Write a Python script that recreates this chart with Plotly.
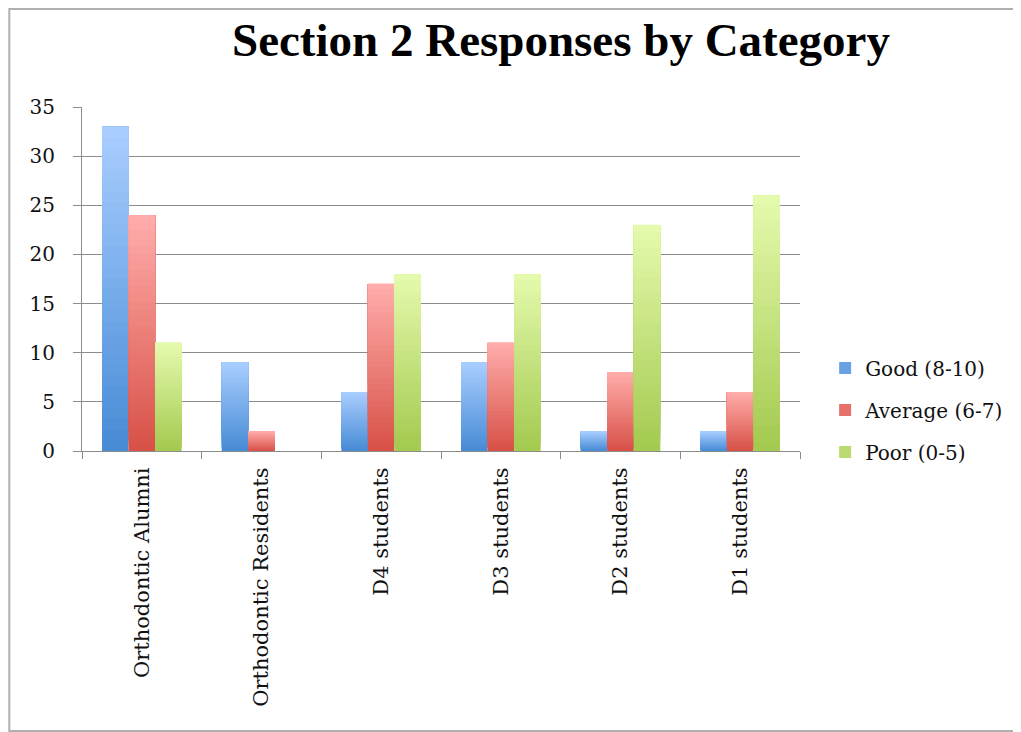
import plotly.graph_objects as go

categories = ["Orthodontic Alumni", "Orthodontic Residents", "D4 students",
              "D3 students", "D2 students", "D1 students"]
good = [33, 9, 6, 9, 2, 2]
average = [24, 2, 17, 11, 8, 6]
poor = [11, 0, 18, 18, 23, 26]

series = [
    ("Good (8-10)", good, (168, 205, 255), (72, 140, 214)),
    ("Average (6-7)", average, (255, 172, 170), (216, 82, 72)),
    ("Poor (0-5)", poor, (228, 250, 172), (164, 202, 80)),
]

N = 30
fig = go.Figure()
for name, vals, top, bot in series:
    for k in range(N):
        t = k / (N - 1)  # 0 bottom -> 1 top
        c = tuple(int(round(bot[i] + (top[i] - bot[i]) * t)) for i in range(3))
        fig.add_trace(go.Bar(
            x=categories,
            y=[v * (N - k) / N for v in vals],
            base=[v * k / N for v in vals],
            offsetgroup=name,
            legendgroup=name,
            name=name,
            showlegend=(k == N // 3),
            marker=dict(color="rgb(%d,%d,%d)" % c, line=dict(width=0)),
            hoverinfo="skip" if k else "y",
        ))

tick_font = "DejaVu Serif"
W, H = 1013, 724
L, T, PW, PH = 74, 99, 721, 344
fig.update_layout(
    width=W, height=H,
    barmode="group", bargap=0.335, bargroupgap=0,
    paper_bgcolor="white", plot_bgcolor="white",
    margin=dict(l=L, r=W - L - PW, t=T, b=H - T - PH),
    title=dict(text="<b>Section 2 Responses by Category</b>", x=553 / W, xanchor="center",
               y=1 - 32 / H, yanchor="middle",
               font=dict(family="Liberation Serif", size=47, color="black")),
    font=dict(family=tick_font, size=20, color="#111"),
    legend=dict(x=1.035, xanchor="left", y=0.119, yanchor="middle",
                traceorder="grouped", tracegroupgap=13,
                font=dict(family=tick_font, size=20, color="#111")),
    xaxis=dict(showline=True, linecolor="#8c8c8c", linewidth=1, ticks="outside",
               tickson="boundaries", ticklen=7, tickcolor="#8c8c8c",
               tickangle=-90, showgrid=False, ticklabelstandoff=7,
               tickfont=dict(family=tick_font, size=21, color="#111")),
    yaxis=dict(range=[0, 35], dtick=5, showline=True, linecolor="#8c8c8c",
               ticks="outside", ticklen=8, tickcolor="#8c8c8c",
               gridcolor="#8c8c8c", gridwidth=1, zeroline=False,
               ticklabelstandoff=14,
               tickfont=dict(family=tick_font, size=20, color="#111")),
    shapes=[dict(type="rect", xref="paper", yref="paper",
                 x0=(1 - L) / PW, x1=(W + 20 - L) / PW,
                 y0=(T + PH - (H - 1)) / PH, y1=(T + PH - 1) / PH,
                 line=dict(color="#b0b0b0", width=2), layer="below")],
)

fig.write_html("out.html")
